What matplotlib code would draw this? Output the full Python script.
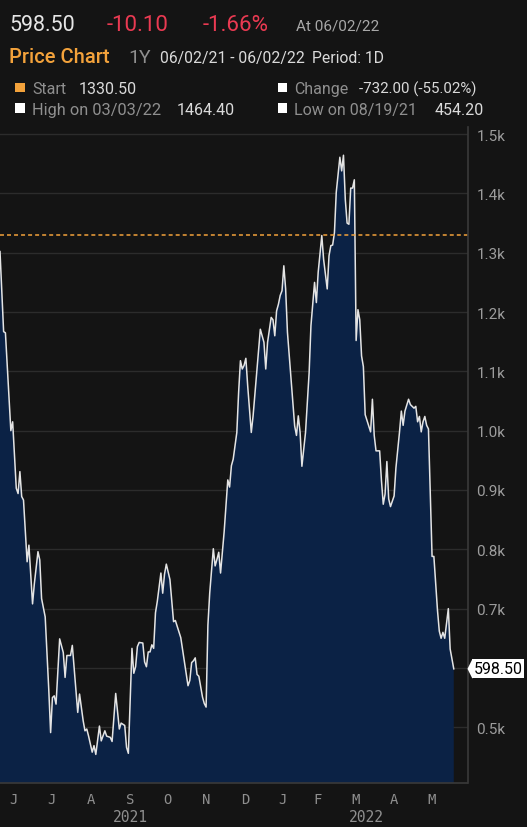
import numpy as np
import matplotlib
matplotlib.use("Agg")
import matplotlib.pyplot as plt
from matplotlib.patches import Rectangle, Polygon
from matplotlib.transforms import IdentityTransform

plt.rcParams['font.family'] = ['Roboto', 'DejaVu Sans']

# --- data (trading-day index from 06/02/21, close price) ---
day = [0, 2, 3, 6, 7, 9, 10, 11, 12, 13, 15, 16, 18, 19, 21, 22, 23, 25, 27, 28,
       29, 30, 31, 33, 35, 36, 37, 39, 40, 41, 43, 44, 46, 47, 48, 49, 51, 52, 53, 55,
       56, 58, 59, 61, 62, 64, 66, 67, 69, 70, 71, 73, 74, 75, 76, 77, 79, 80, 81, 82,
       83, 84, 85, 86, 87, 89, 90, 91, 92, 94, 96, 97, 100, 102, 104, 105, 106, 107, 108, 109,
       110, 112, 113, 114, 115, 116, 118, 119, 120, 121, 122, 124, 126, 127, 128, 129, 131, 132, 133, 134,
       135, 136, 137, 139, 140, 142, 144, 146, 147, 148, 150, 151, 152, 153, 154, 155, 156, 157, 158, 159,
       161, 163, 164, 165, 166, 167, 169, 171, 172, 174, 175, 176, 178, 179, 181, 182, 183, 184, 185, 186,
       188, 189, 190, 191, 192, 193, 194, 195, 196, 197, 198, 199, 200, 201, 202, 205, 206, 207, 208, 210,
       211, 212, 213, 214, 215, 216, 218, 219, 221, 222, 223, 224, 226, 227, 229, 230, 231, 232, 233, 234,
       235, 236, 237, 238, 239, 240, 242, 243, 244, 245, 246, 248, 249, 251]
price = [1302, 1167, 1165, 1000, 1015, 903, 894, 931, 889, 883, 779, 807, 708, 742, 796, 782, 717, 686, 562, 491,
         550, 553, 539, 649, 626, 584, 621, 621, 638, 601, 525, 556, 511, 494, 497, 485, 458, 469, 454.2, 502,
         477, 494, 485, 483, 476, 557, 497, 507, 503, 466, 456, 633, 591, 602, 636, 643, 642, 610, 602, 627,
         627, 639, 633, 693, 712, 760, 726, 758, 775, 749, 678, 680, 651, 610, 570, 579, 609, 612, 617, 589,
         586, 551, 540, 534, 672, 726, 801, 772, 783, 795, 760, 830, 917, 905, 941, 952, 997, 1065, 1118, 1104,
         1110, 1122, 1076, 997, 1025, 1098, 1171, 1149, 1104, 1149, 1191, 1187, 1160, 1202, 1213, 1228, 1236, 1278, 1239, 1166,
         1087, 1008, 992, 1025, 997, 940, 997, 1098, 1177, 1250, 1216, 1267, 1329, 1289, 1239, 1295, 1312, 1313, 1334, 1402,
         1461, 1438, 1464.4, 1390, 1350, 1348, 1409, 1409, 1423, 1152, 1204, 1187, 1126, 1108, 1027, 998, 1053, 992, 966, 966,
         916, 876, 893, 948, 885, 872, 890, 937, 998, 1033, 1009, 1033, 1053, 1044, 1038, 1041, 1015, 1024, 998, 1015,
         1024, 1009, 1003, 893, 788, 788, 697, 662, 650, 660, 650, 700, 632, 598.5]

start_price = 1330.50
last_price = 598.50
day_change = -10.10
high_price, high_date = 1464.40, "03/03/22"
low_price, low_date = 454.20, "08/19/21"

month_labels = ['J', 'J', 'A', 'S', 'O', 'N', 'D', 'J', 'F', 'M', 'A', 'M']
month_pos = [7.7, 28.6, 50.2, 71.9, 92.8, 114.0, 135.5, 156.4, 175.8, 196.8, 218.1, 238.8]
year_labels = ['2021', '2022']
year_pos = [71.9, 202.5]
ytick_vals = [500, 600, 700, 800, 900, 1000, 1100, 1200, 1300, 1400, 1500]

# --- colours ---
BG = '#141414'
FILL = '#0b2245'
LINE = '#e4e4e4'
GRID = '#2c2c2c'
ORANGE = '#f3a23b'
RED = '#ea3a52'
GRAY = '#8f8f8f'
LIGHT = '#dadada'

W, H = 527, 828
fig = plt.figure(figsize=(W / 100, H / 100), dpi=100, facecolor=BG)
ax = fig.add_axes([0, (H - 784) / H, 467.5 / W, (784 - 128) / H])
ax.set_facecolor(BG)

ax.fill_between(day, price, 0, color=FILL, lw=0)
ax.plot(day, price, color=LINE, lw=1.1)
ax.axhline(start_price, color=ORANGE, lw=1.1, ls=(0, (2.6, 2.0)))

ax.set_xlim(0, 258.6)
ax.set_ylim(406, 1512)

ax.set_yticks(ytick_vals)
ax.set_yticklabels(['' if v == 600 else f'{v / 1000:.1f}k' for v in ytick_vals])
ax.yaxis.tick_right()
ax.tick_params(axis='y', length=0, pad=6.5, labelsize=11, labelcolor='#9c9c9c')
ax.grid(axis='y', color=GRID, lw=1)
ax.set_axisbelow(True)

ax.set_xticks(month_pos)
ax.set_xticklabels(month_labels, family='DejaVu Sans Mono')
ax.tick_params(axis='x', length=0, pad=6.5, labelsize=10, labelcolor=GRAY)
for x, lab in zip(year_pos, year_labels):
    ax.annotate(lab, xy=(x, 0), xycoords=('data', 'axes fraction'),
                xytext=(0, -24), textcoords='offset points', ha='center', va='center',
                fontsize=10.5, color=GRAY, family='DejaVu Sans Mono')

for s in ['top', 'left']:
    ax.spines[s].set_visible(False)
for s in ['right', 'bottom']:
    ax.spines[s].set_color('#3a3a3a')
    ax.spines[s].set_linewidth(1.2)

# last price tag
ax.annotate(f'{last_price:.2f}', xy=(1, last_price), xycoords=('axes fraction', 'data'),
            xytext=(4.3, 0), textcoords='offset points', ha='left', va='center',
            fontsize=11.5, color='black',
            bbox=dict(boxstyle='square,pad=0.12', fc='white', ec='none'))
tip = ax.get_yaxis_transform().transform((1, last_price))
fig.add_artist(Polygon([(tip[0], tip[1]), (tip[0] + 5, tip[1] + 10), (tip[0] + 5, tip[1] - 10)],
                       closed=True, fc='white', ec='none', transform=IdentityTransform()))


def ftxt(x, y, s, **kw):
    fig.text(x / W, 1 - y / H, s, va='baseline', ha='left', **kw)


def square(x, y, c):
    fig.add_artist(Rectangle((x / W, 1 - (y + 9.5) / H), 9.5 / W, 9.5 / H,
                             transform=fig.transFigure, fc=c, ec='none'))


pct = day_change / (last_price - day_change) * 100
change = last_price - start_price
change_pct = change / start_price * 100

ftxt(9.3, 30.7, f'{last_price:.2f}', fontsize=15.5, color='#e6e6e6')
ftxt(106.7, 30.7, f'{day_change:.2f}', fontsize=16, color=RED)
ftxt(202.7, 30.7, f'{pct:.2f}%', fontsize=16, color=RED)
ftxt(296, 30.7, 'At 06/02/22', fontsize=11, color='#a8a8a8')

ftxt(9.3, 62.7, 'Price Chart', fontsize=14.5, color=ORANGE, weight='medium')
ftxt(128.3, 62.7, '1Y', fontsize=14, color=GRAY)
ftxt(160, 62.7, '06/02/21 - 06/02/22', fontsize=11.3, color=LIGHT)
ftxt(312.3, 62.7, 'Period: 1D', fontsize=11.3, color=LIGHT)

square(15, 83.5, ORANGE)
ftxt(32.3, 94, 'Start', fontsize=11.5, color=GRAY)
ftxt(79, 94, f'{start_price:.2f}', fontsize=11.5, color=LIGHT)
square(277.7, 83.5, 'white')
ftxt(294.3, 94, 'Change', fontsize=11.5, color=GRAY)
ftxt(359, 94, f'{change:.2f} ({change_pct:.2f}%)', fontsize=10.8, color=LIGHT)

square(15, 104.5, 'white')
ftxt(32.3, 115, f'High on {high_date}', fontsize=11.8, color=GRAY)
ftxt(176.7, 115, f'{high_price:.2f}', fontsize=11.5, color=LIGHT)
square(277.7, 104.5, 'white')
ftxt(294.3, 115, f'Low on {low_date}', fontsize=11.5, color=GRAY)
ftxt(435, 115, f'{low_price:.2f}', fontsize=11.5, color=LIGHT)

fig.savefig('out.png', dpi=100, facecolor=BG)
